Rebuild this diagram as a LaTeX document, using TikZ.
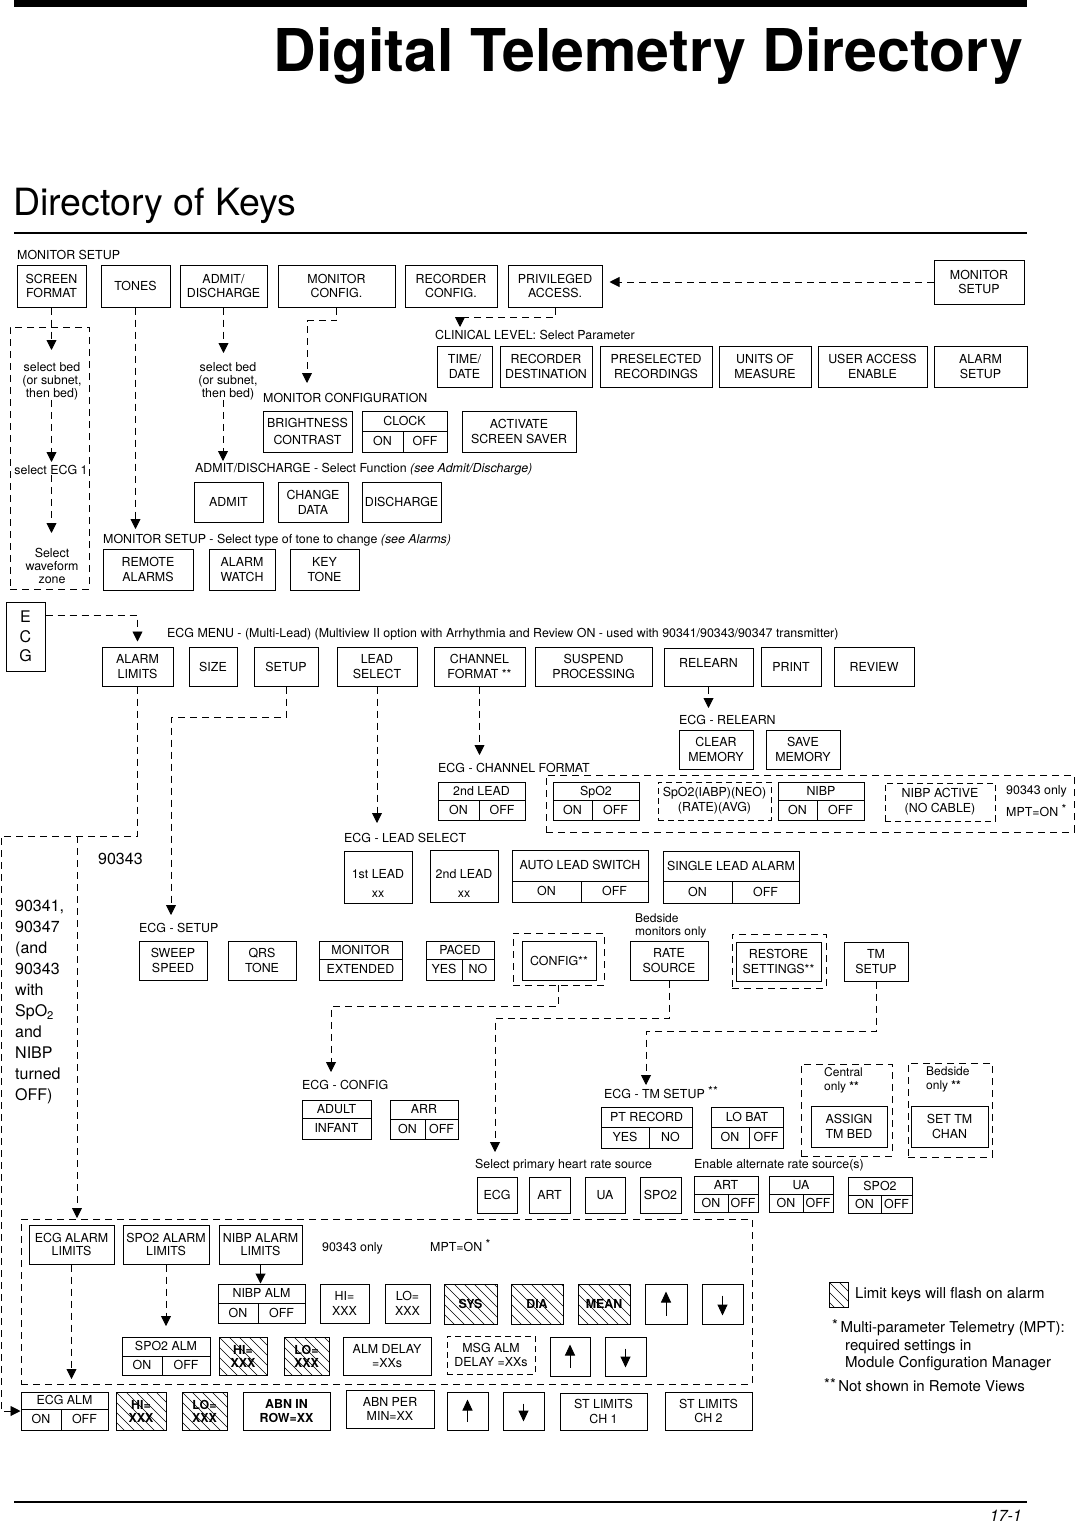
\documentclass[tikz,border=0pt]{standalone}
\usepackage{fontspec}
\setmainfont{TeX Gyre Heros}
\usetikzlibrary{arrows.meta,calc}
\newcommand\kf{\fontsize{12.4}{14.8}\selectfont}
\newcommand\lgf{\fontsize{15}{17}\selectfont}
\newcommand\bigf{\fontsize{16}{21}\selectfont}
\newcommand\notef{\fontsize{12.4}{12.8}\selectfont}
\newcommand\hst[1]{\raisebox{3pt}{#1}}
\tikzset{
 key/.style={draw,line width=1pt,inner sep=0pt,align=center,font=\kf},
 dk/.style={line width=0.9pt,dash pattern=on 6pt off 4pt},
 hatch/.style={path picture={\foreach \k in {-60,-50,...,60} {\draw[line width=0.6pt] ($(path picture bounding box.north west)+(\k,0)$) -- ++(60,60);}},font=\kf\bfseries},
 txt/.style={inner sep=0pt,font=\kf,align=center},
 cell/.style={inner sep=0pt,font=\kf,text height=8.8pt,text depth=0pt},
 lbl/.style={inner sep=0pt,font=\kf,anchor=base west},
 dl/.style={line width=0.9pt,dash pattern=on 7pt off 5pt},
 arr/.style={-{Triangle[width=10pt,length=10pt]}},
 kl/.style={line width=1pt},
}
% \keybox[opt]{name}{x1}{y1}{x2}{y2}{text}
\newcommand\keybox[7][]{\node[key,#1,minimum width={(#5)-(#3)},minimum height={(#6)-(#4)}] (#2) at ({((#3)+(#5))/2},{((#4)+(#6))/2}) {#7};}
% \splitbox{name}{x1}{y1}{x2}{y2}{ydiv}{xdiv}{top}{left}{right}
\newcommand\splitbox[9]{\def\SBa{#1}\def\SBb{#2}\def\SBc{#3}\def\SBd{#4}\def\SBe{#5}\def\SBf{#6}\def\SBg{#7}\def\SBh{#8}\def\SBi{#9}\splitboxfinish}
\newcommand\splitboxfinish[1]{%
 \node[key,minimum width={(\SBd)-(\SBb)},minimum height={(\SBe)-(\SBc)}] (\SBa) at ({((\SBb)+(\SBd))/2},{((\SBc)+(\SBe))/2}) {};
 \draw[kl] (\SBb,\SBf) -- (\SBd,\SBf);
 \draw[kl] (\SBg,\SBf) -- (\SBg,\SBe);
 \node[cell] (\SBa-t) at ({((\SBb)+(\SBd))/2},{((\SBc)+(\SBf))/2}) {\SBh};
 \node[cell] (\SBa-l) at ({((\SBb)+(\SBg))/2},{((\SBf)+(\SBe))/2}) {\SBi};
 \node[cell] (\SBa-r) at ({((\SBg)+(\SBd))/2},{((\SBf)+(\SBe))/2}) {#1};}
% \tworow{name}{x1}{y1}{x2}{y2}{ydiv}{top}{bottom}
\newcommand\tworow[8]{%
 \node[key,minimum width={(#4)-(#2)},minimum height={(#5)-(#3)}] (#1) at ({((#2)+(#4))/2},{((#3)+(#5))/2}) {};
 \draw[kl] (#2,#6) -- (#4,#6);
 \node[cell] (#1-t) at ({((#2)+(#4))/2},{((#3)+(#6))/2}) {#7};
 \node[cell] (#1-b) at ({((#2)+(#4))/2},{((#6)+(#5))/2}) {#8};}
\newcommand\upkey[5]{\keybox{#1}{#2}{#3}{#4}{#5}{}\draw[kl,-{Triangle[width=10pt,length=11pt]}] ($(#1.south)+(0,-9)$) -- ($(#1.north)+(0,8)$);}
\newcommand\dnkey[5]{\keybox{#1}{#2}{#3}{#4}{#5}{}\draw[kl,-{Triangle[width=10pt,length=11pt]}] ($(#1.north)+(0,12)$) -- ($(#1.south)+(0,-9)$);}

\begin{document}
\begin{tikzpicture}[x=1pt,y=-1pt]
\fill[white] (0,0) rectangle (1076,1525);
\useasboundingbox (0,0) rectangle (1076,1525);

% ---------- header / footer
\fill (14,0) rectangle (1027,7);
\node[anchor=base east,inner sep=0pt,font=\fontsize{59}{59}\selectfont\bfseries] (title) at (1023,72) {Digital Telemetry Directory};
\node[anchor=base west,inner sep=0pt,font=\fontsize{37.5}{37.5}\selectfont] (subtitle) at (13,215) {Directory of Keys};
\draw[line width=1.6pt] (14,233) -- (1027,233);
\draw[line width=1.2pt] (14,1502) -- (1027,1502);
\node[anchor=base east,inner sep=0pt,font=\fontsize{16}{16}\selectfont\itshape] (page) at (1022,1521) {17-1};

% ---------- monitor setup row
\node[lbl] (l-ms) at (17,259) {MONITOR SETUP};
\keybox{scr}{17}{265}{86}{307}{SCREEN\\FORMAT}
\keybox{ton}{101}{265}{170}{307}{TONES}
\keybox{adm}{180}{265}{267}{307}{ADMIT/\\DISCHARGE}
\keybox{mcf}{278}{265}{395}{307}{MONITOR\\CONFIG.}
\keybox{rcf}{405}{265}{497}{307}{RECORDER\\CONFIG.}
\keybox{pri}{508}{265}{602}{307}{PRIVILEGED\\ACCESS.}
\keybox{msu}{934}{260}{1024}{304}{MONITOR\\SETUP}

% ---------- clinical level
\node[lbl] (l-cl) at (435,339) {CLINICAL LEVEL: Select Parameter};
\keybox{tim}{437}{346}{492}{387}{TIME/\\DATE}
\keybox{rde}{500}{346}{592}{387}{RECORDER\\DESTINATION}
\keybox{pre}{600}{346}{712}{387}{PRESELECTED\\RECORDINGS}
\keybox{uni}{719}{346}{811}{387}{UNITS OF\\MEASURE}
\keybox{usr}{818}{346}{927}{387}{USER ACCESS\\ENABLE}
\keybox{als}{934}{346}{1027}{387}{ALARM\\SETUP}

% ---------- left select column
\keybox[dl]{selbox}{10}{327}{89}{589}{}
\node[txt,font=\notef] (sb1) at (52,381) {select bed\\(or subnet,\\then bed)};
\node[txt] (se1) at (51,470) {select ECG 1};
\node[txt,font=\fontsize{12.4}{13.2}\selectfont] (sw) at (52,566) {Select\\waveform\\zone};
\node[txt,font=\notef] (sb2) at (228,381) {select bed\\(or subnet,\\then bed)};

% ---------- monitor configuration
\node[lbl] (l-mc) at (263,402) {MONITOR CONFIGURATION};
\keybox[font=\fontsize{12.4}{17}\selectfont]{bri}{263}{411}{352}{452}{BRIGHTNESS\\CONTRAST}
\splitbox{clk}{362}{411}{447}{452}{431}{403}{CLOCK}{ON}{OFF}
\keybox{act}{462}{411}{576}{452}{ACTIVATE\\SCREEN SAVER}

% ---------- admit / discharge
\node[lbl] (l-ad) at (195,472) {ADMIT/DISCHARGE - Select Function \textit{(see Admit/Discharge)}};
\keybox{admt}{194}{482}{263}{522}{ADMIT}
\keybox{chg}{278}{482}{348}{522}{CHANGE\\DATA}
\keybox{dis}{362}{482}{441}{522}{DISCHARGE}

% ---------- tones
\node[lbl] (l-to) at (103,543) {MONITOR SETUP - Select type of tone to change \textit{(see Alarms)}};
\keybox{rem}{103}{549}{193}{590}{REMOTE\\ALARMS}
\keybox{alw}{209}{549}{275}{590}{ALARM\\WATCH}
\keybox{kyt}{290}{549}{359}{590}{KEY\\TONE}

% ---------- top connectors
\coordinate (c1) at (51.5,350);
\coordinate (c2) at (51.5,462);
\coordinate (c3) at (51.5,533);
\draw[dl,arr] (scr.south) -- (c1);
\draw[dl,arr] (sb1.south -| c2) -- (c2);
\draw[dl,arr] (se1.south -| c3) -- (c3);
\coordinate (c4) at (135.5,529);
\draw[dl,arr] (ton.south) -- (c4);
\coordinate (c5) at (223.5,353);
\draw[dl,arr] (adm.south) -- (c5);
\coordinate (c6) at (223,461);
\draw[dl,arr] (sb2.south -| c6) -- (c6);
\coordinate (c7) at (307,383);
\draw[dl,arr] (mcf.south) -- ++(0,13) -| (c7);
\coordinate (c8) at (460,327);
\draw[dl,arr] (pri.south) -- ++(0,10) -| (c8);
\draw[dl,arr,shorten >=7pt] (msu.west) -- (msu.west -| pri.east);

% ---------- ECG menu
\keybox[font=\fontsize{16}{19.5}\selectfont]{ecg}{6}{602}{45}{671}{E\\C\\G}
\node[lbl] (l-em) at (167,637) {ECG MENU - (Multi-Lead) (Multiview II option with Arrhythmia and Review ON - used with 90341/90343/90347 transmitter)};
\keybox{alm}{102}{647}{173}{686}{ALARM\\LIMITS}
\keybox{siz}{189}{647}{237}{686}{SIZE}
\keybox{set}{254}{647}{318}{686}{SETUP}
\keybox{lea}{337}{647}{417}{686}{LEAD\\SELECT}
\keybox{chf}{434}{647}{525}{686}{CHANNEL\\FORMAT **}
\keybox{sus}{535}{647}{652}{686}{SUSPEND\\PROCESSING}
\keybox{rel}{664}{648}{753}{686}{}
\node[cell] (rel-t) at (708.5,663) {RELEARN};
\keybox{prt}{761}{647}{821}{686}{PRINT}
\keybox{rev}{834}{647}{914}{686}{REVIEW}
\draw[dl,arr,shorten >=5pt] ($(ecg.north east)+(0,14)$) -| (alm.north);

% ---------- relearn
\node[lbl] (l-rl) at (679,724) {ECG - RELEARN};
\keybox{clr}{679}{730}{753}{769}{CLEAR\\MEMORY}
\keybox{sav}{766}{730}{840}{769}{SAVE\\MEMORY}

% ---------- channel format
\node[lbl] (l-cf) at (438,772) {ECG - CHANNEL FORMAT};
\keybox[dl]{chbox}{546}{775}{1074}{832}{}
\splitbox{c2l}{438}{782}{525}{820}{800}{479}{2nd LEAD}{ON}{OFF}
\splitbox{sp2}{553}{782}{639}{820}{800}{592}{SpO2}{ON}{OFF}
\keybox[dk]{spi}{658}{782}{771}{820}{SpO2(IABP)(NEO)\\(RATE)(AVG)}
\splitbox{nib}{778}{782}{864}{820}{800}{817}{NIBP}{ON}{OFF}
\keybox[dk]{nac}{885}{783}{995}{821}{NIBP ACTIVE\\(NO CABLE)}
\node[lbl] (l-o1) at (1006,794) {90343 only};
\node[lbl] (l-m1) at (1006,816) {MPT=ON \hst{*}};

% ---------- lead select
\node[lbl] (l-ls) at (344,842) {ECG - LEAD SELECT};
\keybox{ld1}{344}{851}{412}{903}{}
\node[cell] (ld1-t) at (378,874) {1st LEAD};
\node[cell] (ld1-b) at (378,893) {xx};
\keybox{ld2}{430}{850}{498}{902}{}
\node[cell] (ld2-t) at (464,874) {2nd LEAD};
\node[cell] (ld2-b) at (464,893) {xx};
\splitbox{aut}{512}{850}{648}{902}{881}{581}{AUTO LEAD SWITCH}{ON}{OFF}
\splitbox{sla}{663}{851}{799}{903}{881}{732}{SINGLE LEAD ALARM}{ON}{OFF}

% ---------- left notes
\node[lbl,font=\bigf] (l-90) at (98,864) {90343};
\node[anchor=north west,inner sep=0pt,align=left,font=\bigf] (l-big) at (15,900) {90341,\\90347\\(and\\90343\\with\\SpO\textsubscript{2}\\and\\NIBP\\turned\\OFF)};

% ---------- ECG setup
\node[lbl] (l-su) at (139,932) {ECG - SETUP};
\keybox{swp}{139}{941}{207}{980}{SWEEP\\SPEED}
\keybox{qrs}{228}{941}{296}{980}{QRS\\TONE}
\tworow{mex}{319}{941}{402}{980}{959}{MONITOR}{EXTENDED}
\splitbox{pac}{426}{941}{494}{980}{959}{462}{PACED}{YES}{NO}
\keybox[dl]{cfgd}{513}{933}{604}{985}{}
\keybox{cfg}{522}{941}{596}{980}{CONFIG**}
\node[txt,font=\fontsize{12}{12.4}\selectfont,align=left,anchor=north west] (l-bm) at (635,914) {Bedside\\monitors only};
\keybox{rat}{630}{941}{708}{980}{RATE\\SOURCE}
\keybox[dl]{rstd}{732}{934}{826}{988}{}
\keybox{rst}{736}{942}{821}{981}{RESTORE\\SETTINGS**}
\keybox{tms}{844}{942}{908}{981}{TM\\SETUP}

% ---------- ECG config
\node[lbl] (l-cg) at (302,1089) {ECG - CONFIG};
\tworow{adu}{302}{1100}{371}{1139}{1118}{ADULT}{INFANT}
\splitbox{arrk}{390}{1100}{458}{1139}{1119}{425}{ARR}{ON}{OFF}

% ---------- TM setup
\node[lbl] (l-tm) at (604,1098) {ECG - TM SETUP \hst{**}};
\splitbox{ptr}{601}{1107}{692}{1148}{1127}{649}{PT RECORD}{YES}{NO}
\splitbox{lob}{711}{1107}{783}{1148}{1127}{749}{LO BAT}{ON}{OFF}
\keybox[dl]{cend}{801}{1064}{892}{1156}{}
\node[txt,font=\fontsize{12}{14}\selectfont,align=left,anchor=north west] (l-co) at (824,1067) {Central\\only \textbf{**}};
\keybox{asg}{811}{1106}{887}{1147}{ASSIGN\\TM BED}
\keybox[dl]{bedd}{908}{1063}{992}{1157}{}
\node[txt,font=\fontsize{12}{14}\selectfont,align=left,anchor=north west] (l-bo) at (926,1067) {Bedside\\only \textbf{**}};
\keybox{stm}{911}{1106}{988}{1147}{SET TM\\CHAN}

% ---------- rate source
\node[lbl] (l-pr) at (475,1168) {Select primary heart rate source};
\node[lbl] (l-ea) at (694,1168) {Enable alternate rate source(s)};
\keybox{recg}{477}{1177}{517}{1213}{ECG}
\keybox{rart}{529}{1177}{570}{1213}{ART}
\keybox{rua}{585}{1177}{625}{1213}{UA}
\keybox{rspo}{640}{1177}{681}{1213}{SPO2}
\splitbox{eart}{694}{1176}{758}{1212}{1194}{728}{ART}{ON}{OFF}
\splitbox{eua}{769}{1176}{833}{1212}{1194}{803}{UA}{ON}{OFF}
\splitbox{esp}{848}{1177}{912}{1213}{1195}{881}{SPO2}{ON}{OFF}

% ---------- ECG menu connectors
\coordinate (c9) at (1,836);
\coordinate (c10) at (77,836);
\coordinate (c11) at (77,1218);
\coordinate (c12) at (171,915);
\coordinate (c13) at (377,823);
\coordinate (c14) at (479.5,755);
\coordinate (c15) at (708.5,708);
\coordinate (c16) at (331,1072);
\coordinate (c17) at (495,1152);
\coordinate (c18) at (646,1085);
\draw[dl,arr] (set.south) -- ++(0,31) -| (c12);
\draw[dl,arr] (lea.south) -- (c13);
\draw[dl,arr] (chf.south) -- (c14);
\draw[dl,arr] (rel.south) -- (c15);
\draw[dl,arr] (cfgd.south) -- ++(0,21) -| (c16);
\draw[dl,arr] (rat.south) -- ++(0,38) -| (c17);
\draw[dl,arr] (tms.south) -- ++(0,50) -| (c18);

% ---------- MPT alarm box
\keybox[dl]{mpt}{21}{1219}{752}{1384}{}
\keybox[font=\fontsize{12.4}{13.5}\selectfont]{eal}{29}{1225}{114}{1264}{ECG ALARM\\LIMITS}
\keybox[font=\fontsize{12.4}{12.5}\selectfont]{sal}{123}{1225}{209}{1264}{SPO2 ALARM\\LIMITS}
\keybox[font=\fontsize{12.4}{12.5}\selectfont]{nal}{219}{1225}{302}{1264}{NIBP ALARM\\LIMITS}
\node[lbl] (l-o2) at (322,1251) {90343 only};
\node[lbl] (l-m2) at (430,1251) {MPT=ON \hst{*}};
\splitbox{nalm}{218}{1284}{305}{1323}{1303}{258}{NIBP ALM}{ON}{OFF}
\keybox{nhi}{320}{1284}{369}{1323}{HI=\\XXX}
\keybox{nlo}{385}{1284}{430}{1323}{LO=\\XXX}
\keybox[hatch]{sys}{444}{1284}{497}{1324}{SYS}
\keybox[hatch]{dia}{511}{1284}{563}{1324}{DIA}
\keybox[hatch]{mea}{578}{1284}{630}{1324}{MEAN}
\upkey{nup}{645}{1284}{687}{1324}
\dnkey{ndn}{702}{1284}{743}{1324}
\splitbox{salm}{122}{1337}{210}{1375}{1356}{162}{SPO2 ALM}{ON}{OFF}
\keybox[hatch,font=\fontsize{12.4}{13}\selectfont\bfseries]{shi}{219}{1337}{267}{1375}{HI=\\XXX}
\keybox[hatch,font=\fontsize{12.4}{13}\selectfont\bfseries]{slo}{284}{1337}{329}{1375}{LO=\\XXX}
\keybox{ald}{343}{1337}{431}{1375}{ALM DELAY\\=XXs}
\keybox[dk]{msg}{447}{1336}{535}{1374}{MSG ALM\\DELAY =XXs}
\upkey{sup}{550}{1337}{590}{1376}
\dnkey{sdn}{605}{1337}{646}{1376}

% ---------- bottom row
\splitbox{ealm}{21}{1392}{108}{1430}{1409}{61}{ECG ALM}{ON}{OFF}
\keybox[hatch,font=\fontsize{12.4}{13}\selectfont\bfseries]{ehi}{116}{1392}{166}{1430}{HI=\\XXX}
\keybox[hatch,font=\fontsize{12.4}{13}\selectfont\bfseries]{elo}{182}{1392}{227}{1430}{LO=\\XXX}
\keybox[font=\kf\bfseries]{abn}{243}{1392}{330}{1430}{ABN IN\\ROW=XX}
\keybox{abp}{346}{1390}{434}{1428}{ABN PER\\MIN=XX}
\upkey{bup}{447}{1392}{488}{1430}
\dnkey{bdn}{503}{1392}{544}{1430}
\keybox{st1}{560}{1393}{647}{1430}{ST LIMITS\\CH 1}
\keybox{st2}{665}{1392}{752}{1430}{ST LIMITS\\CH 2}

% ---------- alarm connectors
\draw[dl,arr] (alm.south) |- (c9) -- (c9 |- ealm.west) -- (ealm.west);
\draw[dl,arr] (c10) -- (c11);
\draw[kl,arr] (nal.south) -- (nal.south |- nalm.north);
\coordinate (c19) at (166,1326);
\draw[dl,arr] (sal.south) -- (c19);
\coordinate (c20) at (71.5,1379);
\draw[dl,arr] (eal.south) -- (c20);

% ---------- legend
\node[key,hatch,minimum width=19,minimum height=25] (lgb) at (838.5,1294.5) {};
\node[lbl,font=\lgf] (lg1) at (855,1298) {Limit keys will flash on alarm};
\node[lbl,font=\lgf] (lg2) at (832,1332) {\raisebox{2pt}{*}\,Multi-parameter Telemetry (MPT):};
\node[lbl,font=\lgf] (lg3) at (845,1350) {required settings in};
\node[lbl,font=\lgf] (lg4) at (845,1367) {Module Configuration Manager};
\node[lbl,font=\lgf] (lg5) at (824,1391) {\raisebox{2pt}{**}\,Not shown in Remote Views};
\end{tikzpicture}
\end{document}
